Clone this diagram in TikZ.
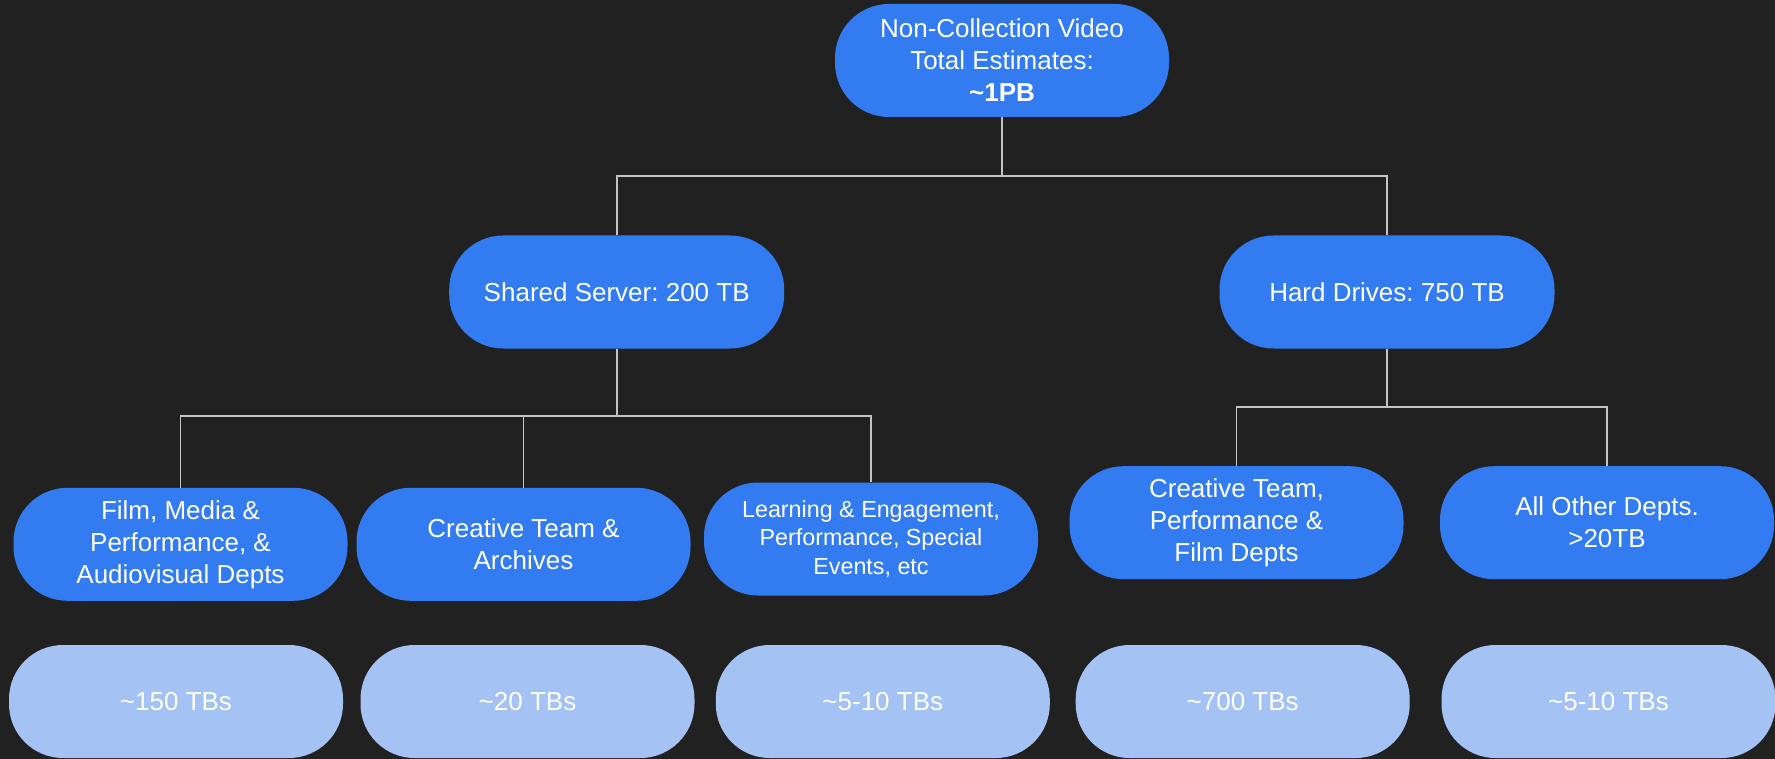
\documentclass[tikz,border=0pt]{standalone}
\usepackage{fontspec}
\setmainfont{Liberation Sans}
\frenchspacing
\definecolor{bg}{HTML}{212121}
\definecolor{nodeblue}{HTML}{327BF0}
\definecolor{lightblue}{HTML}{A4C2F4}
\definecolor{linegray}{HTML}{C4C4C4}
\begin{document}
\begin{tikzpicture}[x=1pt,y=-1pt,
  box/.style={rectangle, rounded corners=54pt, fill=nodeblue, text=white,
    minimum width=334pt, minimum height=113pt, inner sep=0pt, align=center,
    font=\frenchspacing\fontsize{26}{32}\selectfont},
  lbox/.style={box, fill=lightblue},
  conn/.style={draw=linegray, line width=1.8pt}]
\useasboundingbox[fill=bg] (0,0) rectangle (1775,759);

\node[box] (top) at (1002,60.5) {Non-Collection Video\\Total Estimates:\\\textbf{\textasciitilde1PB}};
\node[box, minimum width=335pt] (ss) at (616.7,292) {Shared Server: 200 TB};
\node[box, minimum width=335pt] (hd) at (1387,292) {Hard Drives: 750 TB};

\node[box] (film) at (180.5,544.3) {Film, Media \&\\Performance, \&\\Audiovisual Depts};
\node[box] (cta) at (523.5,544.3) {Creative Team \&\\Archives};
\node[box, font=\frenchspacing\fontsize{23.3}{28.3}\selectfont] (le) at (871,539) {Learning \& Engagement,\\Performance, Special\\Events, etc};
\node[box] (ctp) at (1236.5,522.7) {Creative Team,\\Performance \&\\Film Depts};
\node[box] (aod) at (1607,522.7) {All Other Depts.\\>20TB};

\node[lbox] (b1) at (176,701.5) {\textasciitilde150 TBs};
\node[lbox] (b2) at (527.5,701.5) {\textasciitilde20 TBs};
\node[lbox] (b3) at (882.8,701.5) {\textasciitilde5-10 TBs};
\node[lbox] (b4) at (1242.7,701.5) {\textasciitilde700 TBs};
\node[lbox] (b5) at (1608.5,701.5) {\textasciitilde5-10 TBs};

\coordinate (j1) at (1002,176);
\coordinate (j2) at (616.7,416.3);
\coordinate (j3) at (1387,407.3);

\draw[conn] (top) -- (j1);
\draw[conn] (j1) -| (ss.north);
\draw[conn] (j1) -| (hd.north);

\draw[conn] (ss) -- (j2);
\draw[conn] (j2) -| (film.north);
\draw[conn] (j2) -| (cta.north);
\draw[conn] (j2) -| (le.north);

\draw[conn] (hd) -- (j3);
\draw[conn] (j3) -| (ctp.north);
\draw[conn] (j3) -| (aod.north);
\end{tikzpicture}
\end{document}
